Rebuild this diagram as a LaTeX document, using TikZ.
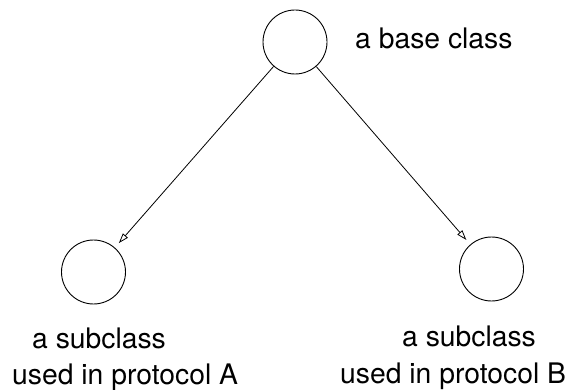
\documentclass[tikz,border=0pt]{standalone}
\usepackage{fontspec}
\setmainfont{TeX Gyre Heros}
\usetikzlibrary{arrows.meta}
\tikzset{
	klass/.style={circle,draw,line width=0.9pt,minimum size=64pt,inner sep=0pt},
	txt/.style={anchor=base west,inner sep=0pt},
	inherit/.style={-{Triangle[open,length=10pt,width=6.5pt]},line width=0.8pt,shorten >=6pt}
}
\begin{document}
\begin{tikzpicture}[x=1pt,y=1pt,line join=round,font=\fontsize{28.3}{34}\selectfont]
				\useasboundingbox (0,0) rectangle (571,389);
				\node[klass] (base) at (295,347) {};
				\node[klass] (subA) at (93.5,117) {};
				\node[klass] (subB) at (491.5,120) {};
				% labels
				\node[txt] (baselbl) at (355,340.7) {a base class};
				\node[txt] (subAlbl) at (32,41) {a subclass};
				\node[txt] (subAuse) at (12,5) {used in protocol A};
				\node[txt] (subBlbl) at (402,43) {a subclass};
				\node[txt] (subBuse) at (340,6) {used in protocol B};
				\draw[inherit] (base) -- (subA);
				\draw[inherit] (base) -- (subB);
			\end{tikzpicture}
\end{document}
